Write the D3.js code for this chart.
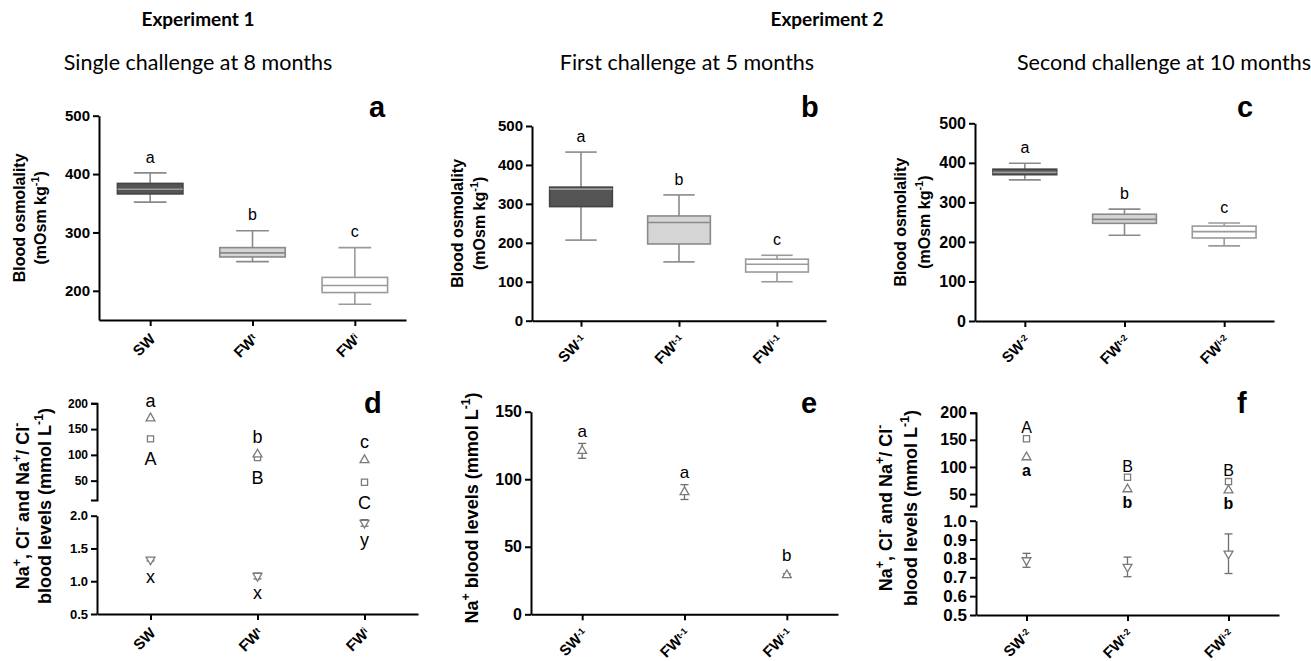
<!DOCTYPE html>
<html>
<head>
<meta charset="utf-8">
<script src="https://cdn.jsdelivr.net/npm/d3@7"></script>
<style>
  body { margin: 0; background: #fff; }
  svg { display: block; }
</style>
</head>
<body>
<svg id="fig" width="1311" height="661"></svg>
<script>
// ---------- data ----------
// group labels: [base, small index]
const groupsExp1   = [["SW", ""],   ["FW", "t"],   ["FW", "i"]];
const groupsFirst  = [["SW", "-1"], ["FW", "t-1"], ["FW", "i-1"]];
const groupsSecond = [["SW", "-2"], ["FW", "t-2"], ["FW", "i-2"]];

// blood osmolality box plots, each [min, q1, median, q3, max] (mOsm kg-1)
const osmoA = [[352, 366, 374, 384, 402], [250, 258, 265, 274, 303], [177, 197, 209, 223, 274]];
const osmoB = [[207, 293, 338, 343, 433], [151, 197, 252, 269, 323], [100, 125, 145, 158, 168]];
const osmoC = [[357, 370, 376, 384, 399], [217, 247, 257, 270, 283], [190, 210, 226, 240, 248]];
const osmoLetters = ["a", "b", "c"];
const osmoTicksA = [200, 300, 400, 500];
const osmoTicks = [0, 100, 200, 300, 400, 500];

// panel d: Na+ and Cl- (mmol L-1) and Na+/Cl- ratio
const naD = [171, 101, 90];
const clD = [131, 95, 47];
const ratioD = [1.33, 1.08, 1.89];
const ratioErrD = [0.02, 0.045, 0.05];
const naLettersD = ["a", "b", "c"];
const clLettersD = ["A", "B", "C"];
const ratioLettersD = ["x", "x", "y"];
const ionTicksD = [50, 100, 150, 200];
const ratioTicksD = [0.5, 1.0, 1.5, 2.0];

// panel e: Na+ (mmol L-1)
const naE = [121, 90.5, 29];
const naErrE = [5.5, 5.5, 1];
const naLettersE = ["a", "a", "b"];
const naTicksE = [0, 50, 100, 150];

// panel f: Na+ and Cl- (mmol L-1) and Na+/Cl- ratio
const naF = [118, 59, 57];
const clF = [152, 81, 73];
const ratioF = [0.79, 0.755, 0.825];
const ratioErrF = [0.037, 0.052, 0.105];
const naLettersF = ["a", "b", "b"];
const clLettersF = ["A", "B", "B"];
const ionTicksF = [50, 100, 150, 200];
const ratioTicksF = [0.5, 0.6, 0.7, 0.8, 0.9, 1.0];

// ---------- drawing helpers ----------
const svg = d3.select("#fig");
const ARIAL = "'Liberation Sans', Arial, sans-serif";
const HEAD = "Lato, 'Open Sans', sans-serif";
const MARK = "#7b7b7b";
const keyOf = g => g[0] + g[1];

// text with superscript parts: parts = [[string, isSup], ...]
function rich(sel, parts, size, supSize, shift) {
  let up = false;
  parts.forEach(([s, sup]) => {
    const ts = sel.append("tspan").text(s);
    if (sup) {
      ts.attr("font-size", supSize);
      if (!up) { ts.attr("dy", -shift); up = true; }
    } else {
      ts.attr("font-size", size);
      if (up) { ts.attr("dy", shift); up = false; }
    }
  });
  return sel;
}

function styleAxis(ax, fontSize) {
  ax.selectAll("path, line").attr("stroke", "#000").attr("stroke-width", 2);
  ax.selectAll("text")
    .attr("font-family", ARIAL).attr("font-weight", "bold")
    .attr("font-size", fontSize).attr("fill", "#000");
}

function xAxis(g, x, yPix, groups, fs) {
  const ax = g.append("g").attr("transform", `translate(0,${yPix})`)
    .call(d3.axisBottom(x).tickSize(6).tickSizeOuter(0).tickFormat(""));
  styleAxis(ax, fs);
  groups.forEach(gr => {
    const t = g.append("text")
      .attr("transform", `translate(${x(keyOf(gr)) + 6},${yPix + 20}) rotate(-45)`)
      .attr("text-anchor", "end")
      .attr("font-family", ARIAL).attr("font-weight", "bold").attr("fill", "#000");
    t.append("tspan").attr("font-size", fs).text(gr[0]);
    if (gr[1]) t.append("tspan").attr("font-size", fs * 0.6).attr("dy", -4).text(gr[1]);
  });
}

function yTitle(g, cx, cy, lines, fs) {
  lines.forEach((parts, i) => {
    const t = g.append("text")
      .attr("transform", `translate(${cx[i]},${cy}) rotate(-90)`)
      .attr("text-anchor", "middle").attr("dy", "0.35em")
      .attr("font-family", ARIAL).attr("font-weight", "bold").attr("fill", "#000");
    rich(t, parts, fs, fs * 0.68, fs * 0.42);
  });
}

function panelLetter(g, x, y, s) {
  g.append("text").attr("x", x).attr("y", y)
    .attr("font-family", ARIAL).attr("font-weight", "bold").attr("font-size", 29)
    .attr("fill", "#000").text(s);
}

function letter(g, x, y, s, fs, weight) {
  g.append("text").attr("x", x).attr("y", y).attr("dy", "0.35em")
    .attr("text-anchor", "middle")
    .attr("font-family", ARIAL).attr("font-size", fs).attr("font-weight", weight || "normal")
    .attr("fill", "#000").text(s);
}

const osmoTitle = [
  [["Blood osmolality", false]],
  [["(mOsm kg", false], ["-1", true], [")", false]]
];
const ionTitle = [
  [["Na", false], ["+", true], [", Cl", false], ["-", true], [" and Na", false], ["+", true], ["/ Cl", false], ["-", true]],
  [["blood levels (mmol L", false], ["-1", true], [")", false]]
];

const boxFill = ["#555555", "#d5d5d5", "#ffffff"];
const boxStroke = ["#444444", "#8a8a8a", "#9a9a9a"];
const whiskStroke = ["#8a8a8a", "#8a8a8a", "#9a9a9a"];
const medStroke = ["#9c9c9c", "#8a8a8a", "#9a9a9a"];

// ---------- box plot panels ----------
function boxPanel(p) {
  const g = svg.append("g");
  const x = d3.scalePoint().domain(p.groups.map(keyOf)).range([p.x0, p.x1]).padding(0.5);
  const y = d3.scaleLinear().domain(p.domain).range([p.yb, p.yt]);
  const step = x.step(), bw = step * 0.64;

  p.stats.forEach((s, i) => {
    const cx = x(keyOf(p.groups[i]));
    const [lo, q1, med, q3, hi] = s;
    const wl = g.append("g").attr("stroke", whiskStroke[i])
      .attr("stroke-width", 1.6).attr("fill", "none");
    wl.append("line").attr("x1", cx).attr("x2", cx).attr("y1", y(hi)).attr("y2", y(q3));
    wl.append("line").attr("x1", cx).attr("x2", cx).attr("y1", y(q1)).attr("y2", y(lo));
    wl.append("line").attr("x1", cx - bw / 4).attr("x2", cx + bw / 4).attr("y1", y(hi)).attr("y2", y(hi));
    wl.append("line").attr("x1", cx - bw / 4).attr("x2", cx + bw / 4).attr("y1", y(lo)).attr("y2", y(lo));
    g.append("rect").attr("x", cx - bw / 2).attr("y", y(q3))
      .attr("width", bw).attr("height", y(q1) - y(q3))
      .attr("fill", boxFill[i]).attr("stroke", boxStroke[i]).attr("stroke-width", 1.6);
    g.append("line").attr("x1", cx - bw / 2).attr("x2", cx + bw / 2)
      .attr("y1", y(med)).attr("y2", y(med))
      .attr("stroke", medStroke[i]).attr("stroke-width", 1.6);
    letter(g, cx, y(hi) - 16, osmoLetters[i], 16);
  });

  const ya = g.append("g").attr("transform", `translate(${p.x0},0)`)
    .call(d3.axisLeft(y).tickValues(p.ticks).tickSize(6).tickSizeOuter(0).tickPadding(3));
  styleAxis(ya, p.tfs);
  xAxis(g, x, p.yb, p.groups, 15);
  yTitle(g, p.titleX, (p.yb + p.yt) / 2, osmoTitle, 16);
  panelLetter(g, p.lx, 117, p.label);
}

boxPanel({ x0: 99, x1: 406, yb: 320, yt: 115.7, domain: [150, 500], ticks: osmoTicksA,
  groups: groupsExp1, stats: osmoA, tfs: 15, titleX: [19, 40], label: "a", lx: 369 });
boxPanel({ x0: 532, x1: 826, yb: 320.7, yt: 126, domain: [0, 500], ticks: osmoTicks,
  groups: groupsFirst, stats: osmoB, tfs: 15, titleX: [457, 479], label: "b", lx: 801 });
boxPanel({ x0: 975, x1: 1274, yb: 321, yt: 123.3, domain: [0, 500], ticks: osmoTicks,
  groups: groupsSecond, stats: osmoC, tfs: 16, titleX: [900, 924], label: "c", lx: 1237 });

// ---------- ion panels ----------
const triUp = d3.symbol(d3.symbolTriangle, 34);
const square = d3.symbol(d3.symbolSquare, 38);

function marker(g, kind, cx, cy) {
  const path = g.append("path").attr("d", kind === "sq" ? square() : triUp())
    .attr("fill", "#fff").attr("stroke", MARK).attr("stroke-width", 1.3);
  const rot = kind === "down" ? " rotate(180)" : "";
  path.attr("transform", `translate(${cx},${cy})${rot}`);
}

function errBar(g, cx, y1, y2) {
  const e = g.append("g").attr("stroke", "#6e6e6e").attr("stroke-width", 1.3);
  e.append("line").attr("x1", cx).attr("x2", cx).attr("y1", y1).attr("y2", y2);
  e.append("line").attr("x1", cx - 4).attr("x2", cx + 4).attr("y1", y1).attr("y2", y1);
  e.append("line").attr("x1", cx - 4).attr("x2", cx + 4).attr("y1", y2).attr("y2", y2);
}

// broken y axis: top segment for Na+/Cl-, bottom segment for the ratio
function ionPanel(p) {
  const g = svg.append("g");
  const x = d3.scalePoint().domain(p.groups.map(keyOf)).range([p.x0, p.x1]).padding(0.5);
  const yTop = d3.scaleLinear().domain(p.topDomain).range(p.topRange);
  const yBot = d3.scaleLinear().domain(p.botDomain).range(p.botRange);

  const at = g.append("g").attr("transform", `translate(${p.x0},0)`)
    .call(d3.axisLeft(yTop).tickValues(p.topTicks).tickSize(6).tickSizeOuter(6).tickPadding(3));
  styleAxis(at, p.tfsTop);
  const ab = g.append("g").attr("transform", `translate(${p.x0},0)`)
    .call(d3.axisLeft(yBot).tickValues(p.botTicks).tickSize(6).tickSizeOuter(0)
      .tickPadding(3).tickFormat(d3.format(".1f")));
  styleAxis(ab, p.tfsBot);

  p.groups.forEach((gr, i) => {
    const cx = x(keyOf(gr));
    const rv = p.ratio[i], re = p.ratioErr[i];
    errBar(g, cx, yBot(rv + re), yBot(rv - re));
    marker(g, "down", cx, yBot(rv));
    marker(g, "sq", cx, yTop(p.cl[i]));
    marker(g, "up", cx, yTop(p.na[i]));
    p.placeLetters(g, cx, i, yTop, yBot);
  });

  xAxis(g, x, p.botRange[0], p.groups, 15);
  yTitle(g, p.titleX, p.titleY, ionTitle, p.titleFs);
  panelLetter(g, p.lx, 413, p.label);
}

ionPanel({
  x0: 97, x1: 418, groups: groupsExp1,
  topDomain: [12.5, 200], topRange: [500, 403.3], topTicks: ionTicksD, tfsTop: 12,
  botDomain: [0.5, 2.0], botRange: [614, 515.7], botTicks: ratioTicksD, tfsBot: 13,
  na: naD, cl: clD, ratio: ratioD, ratioErr: ratioErrD,
  placeLetters: (g, cx, i, yTop, yBot) => {
    letter(g, cx, yTop(naD[i]) - 18, naLettersD[i], 18);
    letter(g, cx, yTop(clD[i]) + 20, clLettersD[i], 18);
    letter(g, cx, yBot(ratioD[i]) + 17, ratioLettersD[i], 18);
  },
  titleX: [23, 45], titleY: 506, titleFs: 18, label: "d", lx: 364
});

ionPanel({
  x0: 976, x1: 1279, groups: groupsSecond,
  topDomain: [28, 200], topRange: [506, 412.7], topTicks: ionTicksF, tfsTop: 16,
  botDomain: [0.5, 1.0], botRange: [615, 520.7], botTicks: ratioTicksF, tfsBot: 17,
  na: naF, cl: clF, ratio: ratioF, ratioErr: ratioErrF,
  placeLetters: (g, cx, i, yTop) => {
    letter(g, cx, yTop(clF[i]) - 11, clLettersF[i], 16);
    letter(g, cx, yTop(naF[i]) + 13, naLettersF[i], 16, "bold");
  },
  titleX: [886, 911], titleY: 508, titleFs: 18, label: "f", lx: 1237
});

// panel e: single Na+ scale
(function () {
  const g = svg.append("g");
  const x = d3.scalePoint().domain(groupsFirst.map(keyOf)).range([531, 838]).padding(0.5);
  const y = d3.scaleLinear().domain([0, 150]).range([614.3, 411.7]);
  const ya = g.append("g").attr("transform", "translate(531,0)")
    .call(d3.axisLeft(y).tickValues(naTicksE).tickSize(6).tickSizeOuter(0).tickPadding(3));
  styleAxis(ya, 16);
  groupsFirst.forEach((gr, i) => {
    const cx = x(keyOf(gr));
    errBar(g, cx, y(naE[i] + naErrE[i]), y(naE[i] - naErrE[i]));
    marker(g, "up", cx, y(naE[i]));
    letter(g, cx, y(naE[i]) - 20, naLettersE[i], 17);
  });
  xAxis(g, x, 614.3, groupsFirst, 15);
  yTitle(g, [472], 508, [[["Na", false], ["+", true], [" blood levels (mmol L", false], ["-1", true], [")", false]]], 18);
  panelLetter(g, 801, 413, "e");
})();

// ---------- headings ----------
function heading(x, y, s, fs, bold) {
  svg.append("text").attr("x", x).attr("y", y).attr("text-anchor", "middle")
    .attr("font-family", HEAD).attr("font-size", fs)
    .attr("font-weight", bold ? "bold" : "normal").attr("fill", "#000").text(s);
}
heading(198, 26, "Experiment 1", 19, true);
heading(827, 26, "Experiment 2", 19, true);
heading(198, 70, "Single challenge at 8 months", 21.5, false);
heading(687, 70, "First challenge at 5 months", 21.5, false);
heading(1164, 70, "Second challenge at 10 months", 21.5, false);
</script>
</body>
</html>
